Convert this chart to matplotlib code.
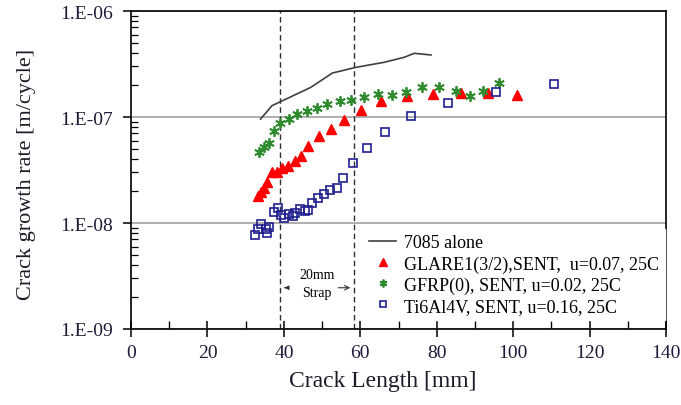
import numpy as np
import matplotlib
matplotlib.use("Agg")
import matplotlib.pyplot as plt
from matplotlib.ticker import FuncFormatter, LogLocator, MultipleLocator, NullFormatter

plt.rcParams['font.family'] = ['Liberation Serif', 'DejaVu Serif']

# 7085 alone (line)
alone_a = [33.9, 36.9, 47.0, 52.7, 58.8, 66.2, 71.5, 74.1, 78.5]
alone_da = [9.57e-8, 1.28e-7, 1.90e-7, 2.60e-7, 2.94e-7, 3.28e-7, 3.66e-7, 3.99e-7, 3.85e-7]

# GLARE1(3/2)
glare_a = [33.1, 34.1, 34.9, 35.7, 37.0, 38.3, 39.6, 41.2, 42.8, 44.4, 46.4, 49.1,
           52.2, 55.7, 60.1, 65.5, 72.2, 79.1, 86.4, 93.5, 101.0]
glare_da = [1.78e-8, 1.98e-8, 2.14e-8, 2.42e-8, 3.03e-8, 3.06e-8, 3.30e-8, 3.47e-8,
            3.85e-8, 4.31e-8, 5.27e-8, 6.55e-8, 7.71e-8, 9.37e-8, 1.16e-7, 1.41e-7,
            1.57e-7, 1.66e-7, 1.67e-7, 1.67e-7, 1.61e-7]

# GFRP(0)
gfrp_a = [33.4, 34.7, 36.0, 37.5, 39.1, 41.3, 43.5, 46.0, 48.6, 51.4, 54.6, 57.6,
          61.0, 64.5, 68.4, 72.0, 76.1, 80.7, 85.0, 88.6, 92.0, 96.4]
gfrp_da = [4.68e-8, 5.18e-8, 5.72e-8, 7.30e-8, 8.69e-8, 9.57e-8, 1.07e-7, 1.15e-7,
           1.21e-7, 1.32e-7, 1.42e-7, 1.45e-7, 1.53e-7, 1.65e-7, 1.62e-7, 1.74e-7,
           1.92e-7, 1.93e-7, 1.77e-7, 1.59e-7, 1.75e-7, 2.08e-7]

# Ti6Al4V
ti_a = [32.5, 33.2, 34.1, 35.2, 35.6, 36.2, 37.3, 38.4, 39.2, 40.0, 41.3, 42.3, 43.0,
        44.3, 45.5, 46.2, 47.4, 48.8, 50.4, 52.0, 53.8, 55.6, 58.1, 61.7, 66.5, 73.2,
        82.9, 95.5, 110.8]
ti_da = [7.71e-9, 8.78e-9, 9.79e-9, 8.78e-9, 8.05e-9, 9.10e-9, 1.28e-8, 1.38e-8,
         1.20e-8, 1.12e-8, 1.22e-8, 1.17e-8, 1.23e-8, 1.36e-8, 1.30e-8, 1.33e-8,
         1.56e-8, 1.73e-8, 1.86e-8, 2.03e-8, 2.13e-8, 2.64e-8, 3.71e-8, 5.07e-8,
         7.27e-8, 1.02e-7, 1.36e-7, 1.72e-7, 2.03e-7]

strap_x = [38.9, 58.4]

fig = plt.figure(figsize=(6.81, 4.06), dpi=100)
ax = fig.add_axes([0.1924, 0.1872, 0.7856, 0.7832])

ax.plot(alone_a, alone_da, color='#404040', lw=1.2, label='7085 alone', zorder=3)
ax.plot(glare_a, glare_da, ls='none', marker='^', ms=7, color='#ff0000', mec='#ff0000',
        label='GLARE1(3/2),SENT,  u=0.07, 25C', zorder=4)
ax.plot(gfrp_a, gfrp_da, ls='none', marker=(6, 2, 0), ms=7.5, mew=1.3, color='#2e8b2e',
        label='GFRP(0), SENT, u=0.02, 25C', zorder=4)
ax.plot(ti_a, ti_da, ls='none', marker='s', ms=6.2, mfc='none', mec='#1f1f8f', mew=1.2,
        label='Ti6Al4V, SENT, u=0.16, 25C', zorder=4)

for xs in strap_x:
    ax.axvline(xs, color='#303030', lw=1.0, ls=(0, (4, 2.5)), zorder=2)

ax.set_yscale('log')
ax.set_xlim(0, 140)
ax.set_ylim(1e-9, 1e-6)

ax.xaxis.set_major_locator(MultipleLocator(20))
ax.xaxis.set_minor_locator(MultipleLocator(10))
ax.yaxis.set_major_locator(LogLocator(base=10, numticks=10))
ax.yaxis.set_minor_locator(LogLocator(base=10, subs=np.arange(2, 10), numticks=10))
ax.yaxis.set_major_formatter(FuncFormatter(lambda v, p: '1.E-%02d' % round(-np.log10(v))))
ax.yaxis.set_minor_formatter(NullFormatter())

ax.tick_params(axis='x', which='major', direction='inout', length=11, width=1.1,
               labelsize=14, pad=5, labelcolor='#1c1c38')
ax.tick_params(axis='x', which='minor', direction='in', length=6, width=1.0)
ax.tick_params(axis='y', which='major', direction='out', length=6, width=1.1,
               labelsize=14, pad=7, labelcolor='#1c1c38')
ax.tick_params(axis='y', which='minor', direction='in', length=5, width=0.9)

ax.yaxis.grid(True, which='major', color='#a8a8a8', lw=1.3)
ax.set_axisbelow(True)

for s in ax.spines.values():
    s.set_linewidth(1.2)

ax.set_xlabel('Crack Length [mm]', fontsize=17, color='#1c1c28')
ax.set_ylabel('Crack growth rate [m/cycle]', fontsize=16, color='#1c1c28')
ax.xaxis.set_label_coords(0.471, -0.128)
ax.yaxis.set_label_coords(-0.178, 0.49)

# strap annotation
ax.text(48.6, 3.3e-9, '20mm', ha='center', va='center', fontsize=10)
ax.text(48.6, 2.2e-9, 'Strap', ha='center', va='center', fontsize=10)
ax.annotate('', xy=(strap_x[0] + 0.5, 2.45e-9), xytext=(strap_x[0] + 2.2, 2.45e-9),
            arrowprops=dict(arrowstyle='-|>', color='#303030', lw=0.8, mutation_scale=6))
ax.annotate('', xy=(strap_x[1] - 0.3, 2.45e-9), xytext=(53.5, 2.45e-9),
            arrowprops=dict(arrowstyle='->', color='#303030', lw=0.8, mutation_scale=8))

leg = ax.legend(loc='upper left', bbox_to_anchor=(0.435, 0.315), fontsize=13,
                frameon=True, fancybox=False, framealpha=1, facecolor='white',
                edgecolor='white', handlelength=1.5, handletextpad=0.45,
                labelspacing=0.22, borderpad=0.3, borderaxespad=0, markerscale=0.75)
leg.set_zorder(6)

fig.savefig('out.png', dpi=100)
